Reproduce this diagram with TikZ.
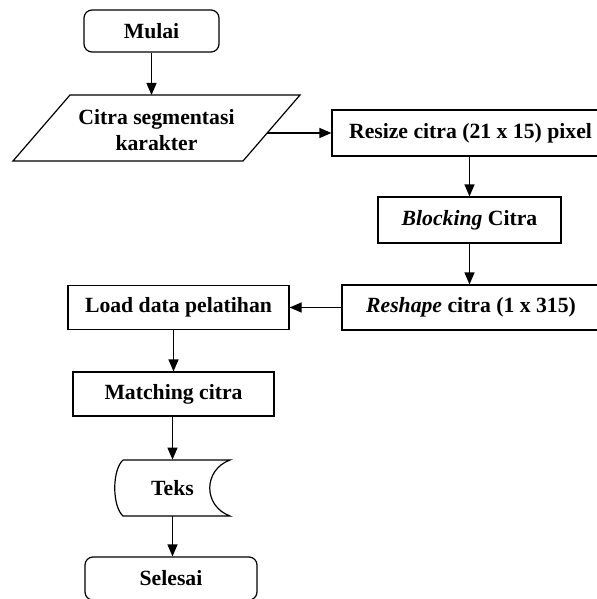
\documentclass[tikz,border=0pt]{standalone}
\usepackage{fontspec}
\setmainfont{Liberation Serif}
\usetikzlibrary{arrows.meta}

\begin{document}
\begin{tikzpicture}[x=0.5pt, y=-0.5pt,
    every node/.style = {align=center, font=\fontsize{10.85}{13}\selectfont\bfseries},
    proses/.style = {draw, line width=0.6pt, inner sep=0pt},
    terminal/.style = {draw, line width=0.6pt, inner sep=0pt, rounded corners=4pt},
    panah/.style = {-{Triangle[length=6pt,width=5pt]}, line width=0.6pt}]
  \useasboundingbox (0,0) rectangle (597,599);
  % mulai dan input
  \node [terminal, minimum width=67.5pt, minimum height=21pt] (mulai) at (151.5,31) {Mulai};
  \coordinate (pa) at (70,95);
  \coordinate (pb) at (300,95);
  \coordinate (pc) at (243,161);
  \coordinate (pd) at (13,161);
  \draw [line width=0.6pt] (pa) -- (pb) -- (pc) -- (pd) -- cycle;
  \node (citra) at (156.5,130) {Citra segmentasi\\karakter};
  \coordinate (ptop) at (151.5,95);
  \coordinate (pkanan) at (267,133);
  % proses
  \node [proses, minimum width=138.5pt, minimum height=23pt] (resize) at (470.5,133) {Resize citra (21 x 15) pixel};
  \node [proses, minimum width=91.5pt, minimum height=23pt] (blocking) at (469.5,220) {\textit{Blocking} Citra};
  \node [proses, minimum width=129pt, minimum height=22.5pt] (reshape) at (471,307.5) {\textit{Reshape} citra (1 x 315)};
  \node [proses, minimum width=110.5pt, minimum height=22pt] (load) at (178.5,307.5) {Load data pelatihan};
  \node [proses, minimum width=100.5pt, minimum height=22pt] (matching) at (173.5,394) {Matching citra};
  % output
  \node [minimum width=57.5pt, minimum height=28pt, inner sep=0pt] (teks) at (172.5,488) {Teks};
  \draw [line width=0.6pt] (123,460) -- (230,460)
    .. controls (203,470) and (203,506) .. (230,516) -- (123,516)
    .. controls (112,506) and (112,470) .. (123,460);
  \node [terminal, minimum width=86pt, minimum height=21.5pt] (selesai) at (171,578.5) {Selesai};
  % panah
  \draw [panah] (mulai) -- (ptop);
  \draw [panah] (pkanan) -- (resize.west);
  \draw [panah] (resize.south -| blocking) -- (blocking);
  \draw [panah] (blocking) -- (reshape.north -| blocking);
  \draw [panah] (reshape) -- (load);
  \draw [panah] (load.south -| matching) -- (matching);
  \draw [panah] (matching.south -| teks) -- (teks);
  \draw [panah] (teks) -- (selesai.north -| teks);
\end{tikzpicture}
\end{document}
